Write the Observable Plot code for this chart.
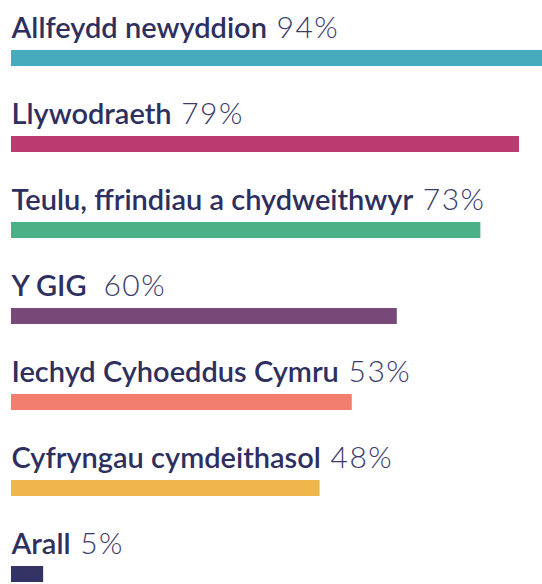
<!DOCTYPE html>
<html>
<head>
<meta charset="utf-8">
<script src="https://cdn.jsdelivr.net/npm/d3@7"></script>
<script src="https://cdn.jsdelivr.net/npm/@observablehq/plot@0.6"></script>
<style>
  html, body { margin: 0; padding: 0; background: #fff; overflow: hidden; }
  #chart { width: 542px; height: 584px; overflow: hidden; }
</style>
</head>
<body>
<div id="chart"></div>
<script>
const categories = [
  "Allfeydd newyddion",
  "Llywodraeth",
  "Teulu, ffrindiau a chydweithwyr",
  "Y GIG ",
  "Iechyd Cyhoeddus Cymru",
  "Cyfryngau cymdeithasol",
  "Arall"
];
const values = [94, 79, 73, 60, 53, 48, 5];
const colors = ["#46abbd", "#bb3b70", "#49b185", "#784879", "#f27f6d", "#efb64b", "#333366"];

const data = categories.map((name, i) => ({name, value: values[i], color: colors[i]}));
const textColor = "#2e2f5f";

const chart = Plot.plot({
  width: 542,
  height: 584,
  margin: 0,
  style: {fontFamily: "Lato, sans-serif", background: "white", overflow: "hidden"},
  x: {domain: [0, 100], range: [11, 654], axis: null},
  y: {domain: categories, range: [50, 585.7], paddingInner: 0.819, paddingOuter: 0, align: 0, axis: null},
  marks: [
    Plot.barX(data, {x1: 0, x2: "value", y: "name", fill: "color"}),
    Plot.text(data, {
      x: 0, y: "name", text: "name",
      textAnchor: "start", lineAnchor: "bottom", dy: -20.5,
      fontSize: 29, fontWeight: 600, fill: textColor,
      className: "lbl"
    })
  ]
});
document.getElementById("chart").appendChild(chart);

d3.select(chart).selectAll("g.lbl text").each(function(i) {
  const d = data[i];
  d3.select(this).append("tspan")
    .attr("font-weight", 300)
    .attr("fill", "#3a3b6a")
    .attr("font-size", 30)
    .attr("letter-spacing", 1.5)
    .text(" " + d.value + "%");
});
</script>
</body>
</html>
